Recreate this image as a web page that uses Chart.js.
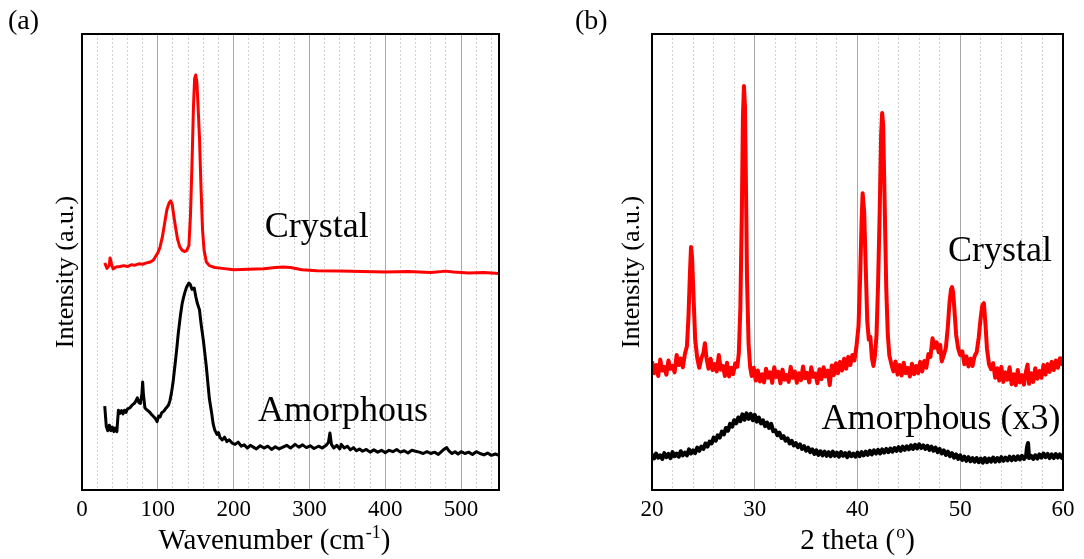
<!DOCTYPE html>
<html>
<head>
<meta charset="utf-8">
<script src="https://cdn.jsdelivr.net/npm/chart.js@4.4.0/dist/chart.umd.min.js"></script>
<style>
  html, body { margin: 0; padding: 0; background: #fff; }
  #wrap { position: relative; width: 1084px; height: 559px; }
  canvas { position: absolute; top: 0; }
  #ramanChart { left: 0; }
  #xrdChart { left: 540px; }
</style>
</head>
<body>
<div id="wrap">
  <canvas id="ramanChart" width="540" height="559"></canvas>
  <canvas id="xrdChart" width="544" height="559"></canvas>
</div>
<script>
// ---- (a) Raman ----
const ramanTickLabels = [0, 100, 200, 300, 400, 500];

const ramanCrystalX = [30, 33, 36, 37, 39, 41, 45, 50, 55, 60, 65, 70, 75, 80, 85, 90, 94, 97, 100, 103,
  106, 109, 112, 115, 117, 119, 121, 123, 126, 129, 132, 135, 138, 141, 143, 145, 147, 148.5, 150, 151.5,
  153, 155, 157, 159, 161, 164, 168, 175, 185, 200, 220, 240, 255, 265, 275, 290, 310, 340, 370, 400,
  430, 460, 480, 490, 510, 530, 550];
const ramanCrystalY = [49.8, 48.6, 49.2, 50.9, 49.6, 48.5, 48.9, 49.0, 49.2, 49.0, 49.4, 49.3, 49.6, 49.5, 49.8, 50.0, 50.4, 51.2, 52.0, 53.3,
  55.5, 58.5, 61.5, 63.0, 63.4, 62.6, 60.2, 58.0, 55.0, 53.3, 52.6, 52.3, 52.5, 53.6, 60.0, 71.0, 84.0, 90.2, 91.0, 89.5,
  84.5, 77.0, 66.0, 57.0, 52.6, 50.0, 49.2, 48.8, 48.6, 48.3, 48.4, 48.5, 48.8, 48.9, 48.8, 48.3, 48.1, 48.0, 47.9, 47.8,
  47.9, 47.7, 48.0, 47.8, 47.6, 47.7, 47.5];

const ramanAmorphX = [30, 32, 34, 36, 38, 40, 42, 44, 46, 48, 50, 52, 54, 56, 58, 60, 63, 66, 69, 71,
  73, 75, 77, 79, 80, 81, 83, 86, 89, 92, 95, 97, 99, 101, 103, 105, 108, 111, 114, 116,
  118, 120, 123, 125, 127, 130, 132, 134, 136, 138, 141, 143, 145, 148, 150, 152, 155, 157, 160, 162,
  164, 166, 168, 171, 173, 175, 178, 180, 182, 185, 188, 191, 194, 198, 202, 206, 210, 214, 218, 222,
  226, 230, 235, 240, 245, 250, 255, 260, 265, 270, 275, 281, 286, 291, 296, 301, 306, 312, 317, 322,
  325, 327, 329, 332, 336, 340, 342, 346, 350, 354, 358, 362, 366, 370, 375, 380, 385, 390, 395, 400,
  405, 410, 415, 420, 425, 430, 435, 440, 445, 450, 455, 460, 465, 470, 474, 478, 481, 484, 488, 492,
  496, 500, 505, 510, 515, 520, 525, 530, 535, 540, 545, 550];
const ramanAmorphY = [18.4, 14.0, 13.0, 14.2, 13.0, 13.8, 12.8, 13.6, 12.8, 17.5, 16.8, 17.4, 16.7, 17.5, 17.0, 17.8, 18.0, 18.6, 19.0, 19.5,
  20.2, 19.2, 19.0, 21.0, 23.7, 21.0, 18.0, 17.5, 17.1, 16.5, 16.0, 15.6, 15.0, 16.2, 16.0, 16.9, 17.3, 18.0, 18.6, 19.6,
  21.3, 23.5, 27.9, 31.0, 34.4, 38.5, 40.8, 42.3, 43.5, 44.5, 45.4, 45.0, 44.0, 44.3, 42.5, 41.0, 39.5, 36.5, 32.9, 30.0,
  27.0, 23.5, 20.0, 16.9, 14.5, 13.2, 12.2, 12.6, 11.5, 11.0, 11.6, 10.6, 11.0, 10.3, 10.0, 10.5, 9.6, 9.9, 9.2, 9.8,
  9.4, 9.0, 9.7, 9.2, 9.6, 8.9, 9.5, 9.0, 9.4, 9.8, 9.2, 10.0, 9.4, 9.9, 9.3, 9.7, 9.1, 9.6, 9.2, 9.8,
  10.4, 12.5, 10.0, 9.2, 9.8, 9.0, 10.0, 9.2, 9.6, 8.8, 9.3, 8.6, 9.0, 8.5, 8.9, 8.3, 8.8, 8.3, 8.7, 8.2,
  8.7, 8.4, 8.9, 8.3, 8.6, 8.1, 8.7, 8.5, 8.3, 8.0, 8.4, 8.0, 8.3, 7.8, 8.4, 9.0, 9.3, 8.6, 8.0, 8.4,
  7.9, 8.4, 8.0, 8.3, 7.8, 8.4, 8.0, 7.7, 8.1, 7.6, 7.9, 7.6];

// ---- (b) XRD : [2theta, intensity] ----
const xrdTickLabels = [20, 30, 40, 50, 60];

const xrdCrystal = [
  [20.0, 28.2], [20.2, 25.6], [20.4, 27.4], [20.6, 25.0], [20.8, 28.6], [21.0, 26.2], [21.2, 27.0], [21.4, 25.3],
  [21.6, 28.4], [21.8, 26.6], [22.0, 27.2], [22.2, 25.8], [22.4, 29.6], [22.6, 27.4], [22.8, 28.8], [23.0, 26.9],
  [23.2, 29.8], [23.4, 31.5], [23.55, 38.0], [23.7, 48.0], [23.8, 53.3], [23.9, 51.0], [24.05, 42.0], [24.2, 33.0],
  [24.4, 29.0], [24.6, 26.8], [24.8, 28.9], [25.0, 30.0], [25.15, 32.2], [25.3, 29.0], [25.5, 26.6], [25.7, 28.8],
  [25.9, 26.3], [26.1, 27.6], [26.3, 26.0], [26.5, 29.6], [26.7, 26.4], [26.9, 27.2], [27.1, 25.0], [27.3, 27.9],
  [27.5, 24.9], [27.7, 26.8], [27.9, 25.4], [28.1, 27.8], [28.3, 27.0], [28.45, 30.0], [28.6, 40.0], [28.75, 62.0],
  [28.85, 82.0], [28.95, 88.6], [29.05, 84.0], [29.15, 66.0], [29.25, 46.0], [29.4, 32.0], [29.55, 27.0], [29.7, 25.0],
  [29.9, 26.8], [30.1, 24.0], [30.3, 26.2], [30.5, 23.8], [30.7, 25.4], [30.9, 23.6], [31.1, 26.6], [31.3, 24.6],
  [31.5, 25.8], [31.7, 23.5], [31.9, 26.9], [32.1, 24.8], [32.3, 25.9], [32.5, 23.4], [32.7, 26.4], [32.9, 24.2],
  [33.1, 25.2], [33.3, 23.7], [33.5, 27.0], [33.7, 24.6], [33.9, 26.0], [34.1, 23.5], [34.3, 25.6], [34.5, 24.1],
  [34.7, 27.1], [34.9, 24.5], [35.1, 25.7], [35.3, 23.6], [35.5, 26.9], [35.7, 24.8], [35.9, 25.5], [36.1, 23.4],
  [36.3, 26.5], [36.5, 24.3], [36.7, 26.9], [36.9, 24.9], [37.1, 26.2], [37.3, 23.0], [37.5, 27.3], [37.7, 25.2],
  [37.9, 27.8], [38.1, 25.6], [38.3, 28.1], [38.5, 26.2], [38.7, 28.8], [38.9, 26.6], [39.1, 29.2], [39.3, 27.4],
  [39.5, 29.6], [39.7, 28.4], [39.9, 31.5], [40.1, 36.0], [40.25, 46.0], [40.4, 59.0], [40.5, 65.1], [40.65, 61.0],
  [40.8, 49.0], [40.95, 37.0], [41.1, 33.0], [41.25, 33.6], [41.4, 29.0], [41.55, 27.2], [41.7, 29.5], [41.85, 34.0],
  [42.0, 45.0], [42.15, 60.0], [42.3, 78.0], [42.4, 82.7], [42.5, 80.0], [42.65, 62.0], [42.8, 44.0], [42.95, 34.0],
  [43.1, 29.5], [43.3, 27.6], [43.5, 26.0], [43.7, 28.2], [43.9, 25.3], [44.1, 27.4], [44.3, 25.1], [44.5, 27.9],
  [44.7, 25.6], [44.9, 26.8], [45.1, 24.9], [45.3, 27.7], [45.5, 25.4], [45.7, 27.2], [45.9, 25.6], [46.1, 28.1],
  [46.3, 26.0], [46.5, 28.3], [46.7, 26.8], [46.9, 29.8], [47.1, 29.2], [47.3, 33.3], [47.5, 31.2], [47.7, 32.4],
  [47.9, 30.2], [48.05, 31.8], [48.2, 28.2], [48.4, 29.6], [48.6, 31.2], [48.8, 36.0], [48.95, 41.0], [49.1, 44.0],
  [49.2, 44.5], [49.3, 43.5], [49.45, 39.0], [49.6, 34.0], [49.8, 31.0], [50.0, 29.6], [50.2, 30.4], [50.4, 27.6],
  [50.6, 29.3], [50.8, 27.1], [51.0, 28.8], [51.2, 27.2], [51.4, 29.4], [51.6, 30.2], [51.8, 33.5], [52.0, 38.0],
  [52.15, 40.5], [52.3, 41.0], [52.45, 36.5], [52.6, 31.0], [52.8, 27.6], [53.0, 26.5], [53.2, 27.8], [53.4, 24.6],
  [53.6, 26.7], [53.8, 24.0], [54.0, 27.0], [54.2, 23.7], [54.4, 25.8], [54.6, 24.2], [54.8, 26.9], [55.0, 23.2],
  [55.2, 25.4], [55.4, 23.0], [55.6, 26.3], [55.8, 23.6], [56.0, 25.2], [56.2, 23.1], [56.4, 26.0], [56.55, 27.5],
  [56.7, 23.3], [56.9, 25.6], [57.1, 23.7], [57.3, 26.7], [57.5, 24.4], [57.7, 26.1], [57.9, 24.6], [58.1, 27.4],
  [58.3, 25.3], [58.5, 27.6], [58.7, 25.9], [58.9, 28.1], [59.1, 26.3], [59.3, 28.4], [59.5, 26.8], [59.7, 28.9],
  [59.9, 27.6], [60.0, 29.2]
];

const xrdAmorph = [
  [20.0, 7.9], [20.2, 6.9], [20.4, 8.0], [20.6, 7.1], [20.8, 7.6], [21.0, 6.8], [21.2, 8.1], [21.4, 7.2],
  [21.6, 7.9], [21.8, 7.0], [22.0, 8.3], [22.2, 7.4], [22.4, 8.0], [22.6, 7.3], [22.8, 8.5], [23.0, 7.6],
  [23.2, 8.2], [23.4, 7.6], [23.6, 8.9], [23.8, 8.0], [24.0, 8.7], [24.2, 8.1], [24.4, 9.3], [24.6, 8.6],
  [24.8, 9.5], [25.0, 9.0], [25.2, 10.2], [25.4, 9.5], [25.6, 10.6], [25.8, 10.2], [26.0, 11.5], [26.2, 10.8],
  [26.4, 12.0], [26.6, 11.5], [26.8, 12.8], [27.0, 12.2], [27.2, 13.6], [27.4, 13.0], [27.6, 14.5], [27.8, 13.9],
  [28.0, 15.3], [28.2, 14.6], [28.4, 15.9], [28.6, 15.1], [28.8, 16.6], [29.0, 15.4], [29.2, 16.8], [29.4, 15.6],
  [29.6, 16.7], [29.8, 15.3], [30.0, 16.5], [30.2, 15.0], [30.4, 15.9], [30.6, 14.6], [30.8, 15.3], [31.0, 14.0],
  [31.2, 14.8], [31.4, 13.6], [31.6, 14.5], [31.8, 12.9], [32.0, 13.1], [32.2, 12.0], [32.4, 12.6], [32.6, 11.4],
  [32.8, 11.8], [33.0, 10.8], [33.2, 11.3], [33.4, 10.2], [33.6, 10.8], [33.8, 9.8], [34.0, 10.3], [34.2, 9.4],
  [34.4, 10.0], [34.6, 9.0], [34.8, 9.6], [35.0, 8.6], [35.2, 9.3], [35.4, 8.3], [35.6, 8.9], [35.8, 7.9],
  [36.0, 8.7], [36.2, 7.7], [36.4, 8.5], [36.6, 7.6], [36.8, 8.4], [37.0, 7.5], [37.2, 8.3], [37.4, 7.4],
  [37.6, 8.4], [37.8, 7.5], [38.0, 8.2], [38.2, 7.3], [38.4, 8.3], [38.6, 7.5], [38.8, 8.1], [39.0, 7.2],
  [39.2, 8.2], [39.4, 7.4], [39.6, 8.0], [39.8, 7.3], [40.0, 8.2], [40.2, 7.4], [40.4, 8.3], [40.6, 7.6],
  [40.8, 8.4], [41.0, 7.7], [41.2, 8.6], [41.4, 7.8], [41.6, 8.7], [41.8, 8.0], [42.0, 8.8], [42.2, 8.0],
  [42.4, 8.9], [42.6, 8.2], [42.8, 9.0], [43.0, 8.3], [43.2, 9.1], [43.4, 8.4], [43.6, 9.2], [43.8, 8.6],
  [44.0, 9.4], [44.2, 8.6], [44.4, 9.5], [44.6, 8.8], [44.8, 9.6], [45.0, 8.9], [45.2, 9.8], [45.4, 9.0],
  [45.6, 9.9], [45.8, 9.1], [46.0, 10.0], [46.2, 9.2], [46.4, 9.8], [46.6, 9.0], [46.8, 9.7], [47.0, 8.8],
  [47.2, 9.5], [47.4, 8.6], [47.6, 9.3], [47.8, 8.3], [48.0, 9.0], [48.2, 8.0], [48.4, 8.7], [48.6, 7.7],
  [48.8, 8.4], [49.0, 7.4], [49.2, 8.1], [49.4, 7.1], [49.6, 7.8], [49.8, 6.8], [50.0, 7.6], [50.2, 6.6],
  [50.4, 7.3], [50.6, 6.4], [50.8, 7.2], [51.0, 6.3], [51.2, 7.0], [51.4, 6.2], [51.6, 7.0], [51.8, 6.1],
  [52.0, 6.9], [52.2, 6.0], [52.4, 7.0], [52.6, 6.1], [52.8, 6.9], [53.0, 6.2], [53.2, 7.1], [53.4, 6.2],
  [53.6, 7.0], [53.8, 6.3], [54.0, 7.2], [54.2, 6.4], [54.4, 7.1], [54.6, 6.5], [54.8, 7.3], [55.0, 6.5],
  [55.2, 7.3], [55.4, 6.6], [55.6, 7.4], [55.8, 6.7], [56.0, 7.5], [56.2, 6.8], [56.4, 7.4], [56.5, 9.5],
  [56.6, 10.3], [56.7, 7.0], [56.9, 7.5], [57.1, 6.8], [57.3, 7.6], [57.5, 6.9], [57.7, 7.8], [57.9, 7.1],
  [58.1, 8.0], [58.3, 7.2], [58.5, 7.9], [58.7, 7.0], [58.9, 7.8], [59.1, 7.0], [59.3, 7.9], [59.5, 7.1],
  [59.7, 7.8], [59.9, 7.0], [60.0, 7.6]
];

Chart.defaults.font.family = '"Liberation Serif", "Times New Roman", serif';
Chart.defaults.color = '#000';

function toPoints(xs, ys) {
    return xs.map((x, i) => ({ x: x, y: ys[i] }));
}
function pairsToPoints(pairs) {
    return pairs.map(p => ({ x: p[0], y: p[1] }));
}

// khung, chữ chú thích, tiêu đề trục (có chỉ số trên)
function panelDecor(cfg) {
    return {
        id: 'panelDecor',
        afterDraw(chart) {
            const { ctx, chartArea: a, scales } = chart;
            ctx.save();
            ctx.strokeStyle = '#000';
            ctx.lineWidth = 2;
            ctx.strokeRect(a.left, a.top, a.right - a.left, a.bottom - a.top);

            ctx.fillStyle = '#000';
            ctx.textAlign = 'left';
            ctx.textBaseline = 'middle';
            ctx.font = '28px "Liberation Serif"';
            ctx.fillText(cfg.letter, cfg.letterX, 22);

            ctx.font = '36px "Liberation Serif"';
            cfg.labels.forEach(l => {
                ctx.fillText(l.text, scales.x.getPixelForValue(l.x), scales.y.getPixelForValue(l.y));
            });

            // y title
            ctx.save();
            ctx.translate(cfg.yTitleX, 272);
            ctx.rotate(-Math.PI / 2);
            ctx.textAlign = 'center';
            ctx.font = '26px "Liberation Serif"';
            ctx.fillText('Intensity (a.u.)', 0, 0);
            ctx.restore();

            // x title with superscript
            const big = '29px "Liberation Serif"';
            const small = '18px "Liberation Serif"';
            const [t1, t2, t3] = cfg.xTitle;
            ctx.font = big;
            const w1 = ctx.measureText(t1).width;
            const w3 = ctx.measureText(t3).width;
            ctx.font = small;
            const w2 = ctx.measureText(t2).width;
            let x = cfg.xTitleCenter - (w1 + w2 + w3) / 2;
            const y = 549;
            ctx.textBaseline = 'alphabetic';
            ctx.font = big; ctx.fillText(t1, x, y); x += w1 + 1;
            ctx.font = small; ctx.fillText(t2, x, y - 11); x += w2;
            ctx.font = big; ctx.fillText(t3, x, y);
            ctx.restore();
        }
    };
}

function makePanel(canvasId, o) {
    const isMajor = v => o.majorTicks.includes(v);
    return new Chart(document.getElementById(canvasId), {
        type: 'line',
        data: {
            datasets: [
                { data: o.crystal, borderColor: '#ff0000', borderWidth: o.crystalWidth, borderJoinStyle: 'round', pointRadius: 0, tension: 0 },
                { data: o.amorph, borderColor: '#000000', borderWidth: o.amorphWidth, borderJoinStyle: 'round', pointRadius: 0, tension: 0 }
            ]
        },
        options: {
            responsive: false,
            animation: false,
            events: [],
            layout: { padding: { left: 0, top: 34, right: o.rightPad, bottom: 0 } },
            plugins: { legend: { display: false }, tooltip: { enabled: false } },
            scales: {
                x: {
                    type: 'linear',
                    min: o.min,
                    max: o.max,
                    afterBuildTicks: s => { s.ticks = o.gridTicks.map(v => ({ value: v })); },
                    afterFit: s => { s.height = 69; },
                    ticks: {
                        autoSkip: false, maxRotation: 0, padding: 6, color: '#000',
                        font: { size: 23 },
                        callback: v => isMajor(v) ? String(v) : ''
                    },
                    grid: {
                        drawTicks: false,
                        lineWidth: 1,
                        color: c => (c.tick && isMajor(c.tick.value)) ? '#a8a8a8' : '#d0d0d0'
                    },
                    border: { display: false, dash: c => (c.tick && !isMajor(c.tick.value)) ? [2, 2] : [] }
                },
                y: {
                    min: 0,
                    max: 100,
                    afterFit: s => { s.width = o.yAxisWidth; },
                    ticks: { display: false },
                    grid: { display: false },
                    border: { display: false }
                }
            }
        },
        plugins: [panelDecor(o.decor)]
    });
}

const ramanGrid = [];
for (let v = 0; v <= 540; v += 20) ramanGrid.push(v);
const xrdGrid = [];
for (let v = 20; v <= 60; v += 2) xrdGrid.push(v);

makePanel('ramanChart', {
    min: 0, max: 550, majorTicks: ramanTickLabels, gridTicks: ramanGrid,
    crystal: toPoints(ramanCrystalX, ramanCrystalY), amorph: toPoints(ramanAmorphX, ramanAmorphY),
    crystalWidth: 3, amorphWidth: 3, rightPad: 41, yAxisWidth: 82,
    decor: {
        letter: '(a)', letterX: 8, yTitleX: 66, xTitleCenter: 274,
        labels: [{ text: 'Crystal', x: 241, y: 57.6 }, { text: 'Amorphous', x: 232, y: 17.1 }],
        xTitle: ['Wavenumber (cm', '-1', ')']
    }
});

makePanel('xrdChart', {
    min: 20, max: 60, majorTicks: xrdTickLabels, gridTicks: xrdGrid,
    crystal: pairsToPoints(xrdCrystal), amorph: pairsToPoints(xrdAmorph),
    crystalWidth: 4, amorphWidth: 4, rightPad: 21, yAxisWidth: 112,
    decor: {
        letter: '(b)', letterX: 35, yTitleX: 92, xTitleCenter: 317,
        labels: [{ text: 'Crystal', x: 48.8, y: 52.2 }, { text: 'Amorphous (x3)', x: 36.5, y: 15.4 }],
        xTitle: ['2 theta (', 'o', ')']
    }
});
</script>
</body>
</html>
